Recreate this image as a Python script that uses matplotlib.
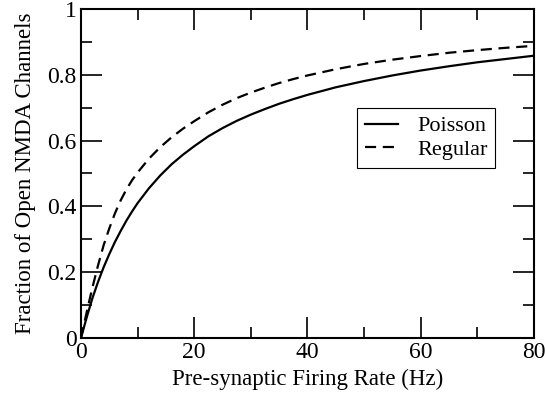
import matplotlib
matplotlib.use("Agg")
import matplotlib.pyplot as plt
from matplotlib.ticker import MultipleLocator

# firing rate (Hz) and fraction of open NMDA channels
rate = [0, 1, 2, 3, 4, 5, 6, 7, 8, 9, 10, 12, 14, 16, 18, 20, 22.5, 25, 27.5, 30,
        32.5, 35, 37.5, 40, 45, 50, 55, 60, 65, 70, 75, 80]
poisson = [0, 0.062, 0.12, 0.17, 0.215, 0.255, 0.292, 0.325, 0.356, 0.384, 0.41, 0.455,
           0.494, 0.528, 0.557, 0.583, 0.613, 0.638, 0.66, 0.679, 0.696, 0.712, 0.726,
           0.739, 0.762, 0.781, 0.798, 0.813, 0.826, 0.838, 0.848, 0.858]
regular = [0, 0.078, 0.152, 0.22, 0.282, 0.333, 0.379, 0.418, 0.451, 0.479, 0.503, 0.545,
           0.58, 0.61, 0.636, 0.659, 0.686, 0.709, 0.729, 0.746, 0.761, 0.775, 0.787,
           0.798, 0.817, 0.833, 0.846, 0.857, 0.867, 0.875, 0.882, 0.888]
ytick_labels = ["0", "0.2", "0.4", "0.6", "0.8", "1"]

plt.rcParams['font.family'] = ['Liberation Serif', 'DejaVu Serif']
plt.rcParams['font.size'] = 17

fig = plt.figure(figsize=(5.45, 3.98), dpi=100)
ax = fig.add_axes([0.1486, 0.1508, 0.8312, 0.8266])

ax.plot(rate, poisson, color="black", lw=1.6, label="Poisson")
ax.plot(rate, regular, color="black", lw=1.6, dashes=(5, 3), label="Regular")

ax.set_xlim(0, 80)
ax.set_ylim(0, 1)
ax.xaxis.set_major_locator(MultipleLocator(20))
ax.xaxis.set_minor_locator(MultipleLocator(10))
ax.set_yticks([0, 0.2, 0.4, 0.6, 0.8, 1.0])
ax.set_yticklabels(ytick_labels)
ax.yaxis.set_minor_locator(MultipleLocator(0.1))

ax.tick_params(which="both", direction="in", top=True, right=True, width=1.2)
ax.tick_params(which="major", length=15, pad=3)
ax.tick_params(which="minor", length=8)
for s in ax.spines.values():
    s.set_linewidth(1.5)

ax.set_xlabel("Pre-synaptic Firing Rate (Hz)", fontsize=16.5, labelpad=4)
ax.set_ylabel("Fraction of Open NMDA Channels", fontsize=16.5, labelpad=8)

leg = ax.legend(loc="upper right", bbox_to_anchor=(0.914, 0.699), borderaxespad=0,
                fancybox=False, framealpha=1, edgecolor="black", fontsize=16,
                handlelength=1.5, handletextpad=0.85, borderpad=0.35, labelspacing=0.15)
leg.get_frame().set_linewidth(0.8)

fig.savefig("out.png", dpi=100)
